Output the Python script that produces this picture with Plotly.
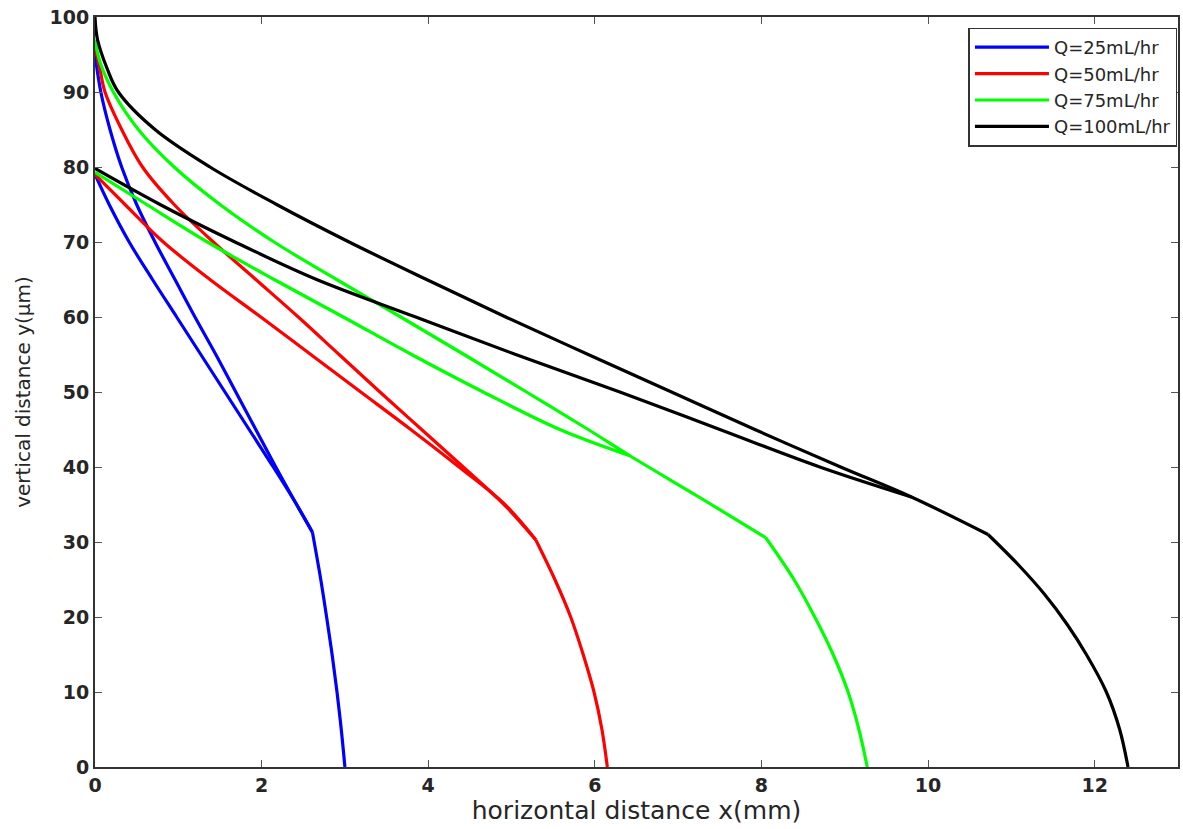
import plotly.graph_objects as go

# ---- data ----
labels = ["Q=25mL/hr", "Q=50mL/hr", "Q=75mL/hr", "Q=100mL/hr"]
colors = ["#0000ff", "#ff0000", "#00ff00", "#000000"]

# Q = 25 mL/hr : upper branch, lower branch, bottom branch (below the kink)
b_up_y = [95, 90, 85, 80, 75, 70, 65, 60, 55, 50, 45, 40, 35, 31.3]
b_up_x = [0, 0.07, 0.18, 0.32, 0.5, 0.72, 0.96, 1.2, 1.45, 1.69, 1.93, 2.17, 2.42, 2.61]
b_lo_y = [79, 75, 70, 65, 60, 55, 50, 45, 40, 35, 31.3]
b_lo_x = [0, 0.17, 0.41, 0.69, 0.98, 1.27, 1.56, 1.85, 2.14, 2.42, 2.61]
b_bt_y = [31.3, 25, 20, 15, 10, 5, 0]
b_bt_x = [2.61, 2.71, 2.78, 2.846, 2.905, 2.956, 3.0]

# Q = 50 mL/hr
r_up_y = [96, 93, 90, 85, 80, 75, 70, 65, 60, 55, 50, 45, 40, 35, 30.3]
r_up_x = [0, 0.06, 0.12, 0.32, 0.57, 0.95, 1.42, 1.93, 2.44, 2.93, 3.42, 3.92, 4.42, 4.91, 5.29]
r_lo_y = [79, 75, 70, 65, 60, 55, 50, 45, 40, 35, 30.3]
r_lo_x = [0, 0.36, 0.82, 1.38, 1.99, 2.59, 3.19, 3.79, 4.37, 4.92, 5.29]
r_bt_y = [30.3, 25, 20, 15, 10, 5, 0]
r_bt_x = [5.29, 5.52, 5.71, 5.86, 5.99, 6.085, 6.15]

# Q = 75 mL/hr (upper branch continues along the merged part down to the kink)
g_up_y = [97, 94, 90, 85, 80, 75, 70, 65, 60, 55, 50, 45, 41.5, 36, 30.6]
g_up_x = [0, 0.06, 0.22, 0.52, 0.95, 1.5, 2.15, 2.9, 3.67, 4.43, 5.18, 5.92, 6.42, 7.25, 8.05]
g_lo_y = [79.3, 75, 70, 65, 60, 55, 50, 45, 41.5]
g_lo_x = [0, 0.62, 1.35, 2.15, 2.98, 3.8, 4.66, 5.58, 6.42]
g_bt_y = [30.6, 25, 20, 15, 10, 5, 0]
g_bt_x = [8.05, 8.39, 8.64, 8.86, 9.04, 9.17, 9.27]

# Q = 100 mL/hr
k_up_y = [100, 97, 93, 90, 85, 80, 75, 70, 65, 60, 55, 50, 45, 40, 36, 31]
k_up_x = [0, 0.03, 0.15, 0.28, 0.72, 1.38, 2.18, 3.05, 3.98, 4.93, 5.92, 6.92, 7.92, 8.95, 9.8, 10.72]
k_lo_y = [79.8, 75, 70, 65, 60, 55, 50, 45, 40, 36]
k_lo_x = [0, 0.78, 1.68, 2.66, 3.85, 5.05, 6.3, 7.5, 8.7, 9.8]
k_bt_y = [31, 27, 23, 19, 15, 10, 5, 0]
k_bt_x = [10.72, 11.08, 11.4, 11.67, 11.9, 12.14, 12.3, 12.4]

x_ticks = [0, 2, 4, 6, 8, 10, 12]
y_ticks = [0, 10, 20, 30, 40, 50, 60, 70, 80, 90, 100]

series = [
    (b_up_x, b_up_y, b_lo_x, b_lo_y, b_bt_x, b_bt_y),
    (r_up_x, r_up_y, r_lo_x, r_lo_y, r_bt_x, r_bt_y),
    (g_up_x, g_up_y, g_lo_x, g_lo_y, g_bt_x, g_bt_y),
    (k_up_x, k_up_y, k_lo_x, k_lo_y, k_bt_x, k_bt_y),
]

fig = go.Figure()
for (ux, uy, lx, ly, bx, by), lab, col in zip(series, labels, colors):
    xs = list(ux) + [None] + list(bx) + [None] + list(lx)
    ys = list(uy) + [None] + list(by) + [None] + list(ly)
    fig.add_trace(go.Scatter(x=xs, y=ys, mode="lines", name=lab,
                             line=dict(color=col, width=3.2, shape="spline", smoothing=1.0),
                             connectgaps=False))

FONT = "DejaVu Sans, Liberation Sans, Arial, sans-serif"
tick_font = dict(family=FONT, size=19, color="#262626")
fig.update_layout(
    width=1183, height=829,
    margin=dict(l=95, r=3, t=17, b=62),
    paper_bgcolor="white", plot_bgcolor="white",
    font=dict(family=FONT, color="#262626"),
    showlegend=True,
    legend=dict(x=0.9995, y=0.986, xanchor="right", yanchor="top",
                bgcolor="white", bordercolor="#333333", borderwidth=1.5,
                font=dict(family=FONT, size=18, color="#262626"),
                tracegroupgap=0, itemwidth=74),
    xaxis=dict(range=[0, 13], tickvals=x_ticks, ticktext=[f"<b>{v}</b>" for v in x_ticks],
               ticks="inside", ticklen=7, tickcolor="#555", mirror="ticks",
               showline=True, linecolor="#333", linewidth=2, showgrid=False, zeroline=False,
               tickfont=tick_font,
               title=dict(text="horizontal distance x(mm)",
                          font=dict(family=FONT, size=25, color="#262626"), standoff=2)),
    yaxis=dict(range=[0, 100], tickvals=y_ticks, ticktext=[f"<b>{v}</b>" for v in y_ticks],
               ticks="inside", ticklen=7, tickcolor="#555", mirror="ticks",
               showline=True, linecolor="#333", linewidth=2, showgrid=False, zeroline=False,
               tickfont=tick_font,
               title=dict(text="vertical distance y(μm)",
                          font=dict(family=FONT, size=20, color="#262626"), standoff=14)),
)

fig.write_html("out.html", config={"displayModeBar": False})

# remove the default 8px page margin so the figure sits at the window origin
with open("out.html", "r", encoding="utf-8") as f:
    html = f.read()
html = html.replace("<body>", '<body style="margin:0;padding:0;">', 1)
with open("out.html", "w", encoding="utf-8") as f:
    f.write(html)
